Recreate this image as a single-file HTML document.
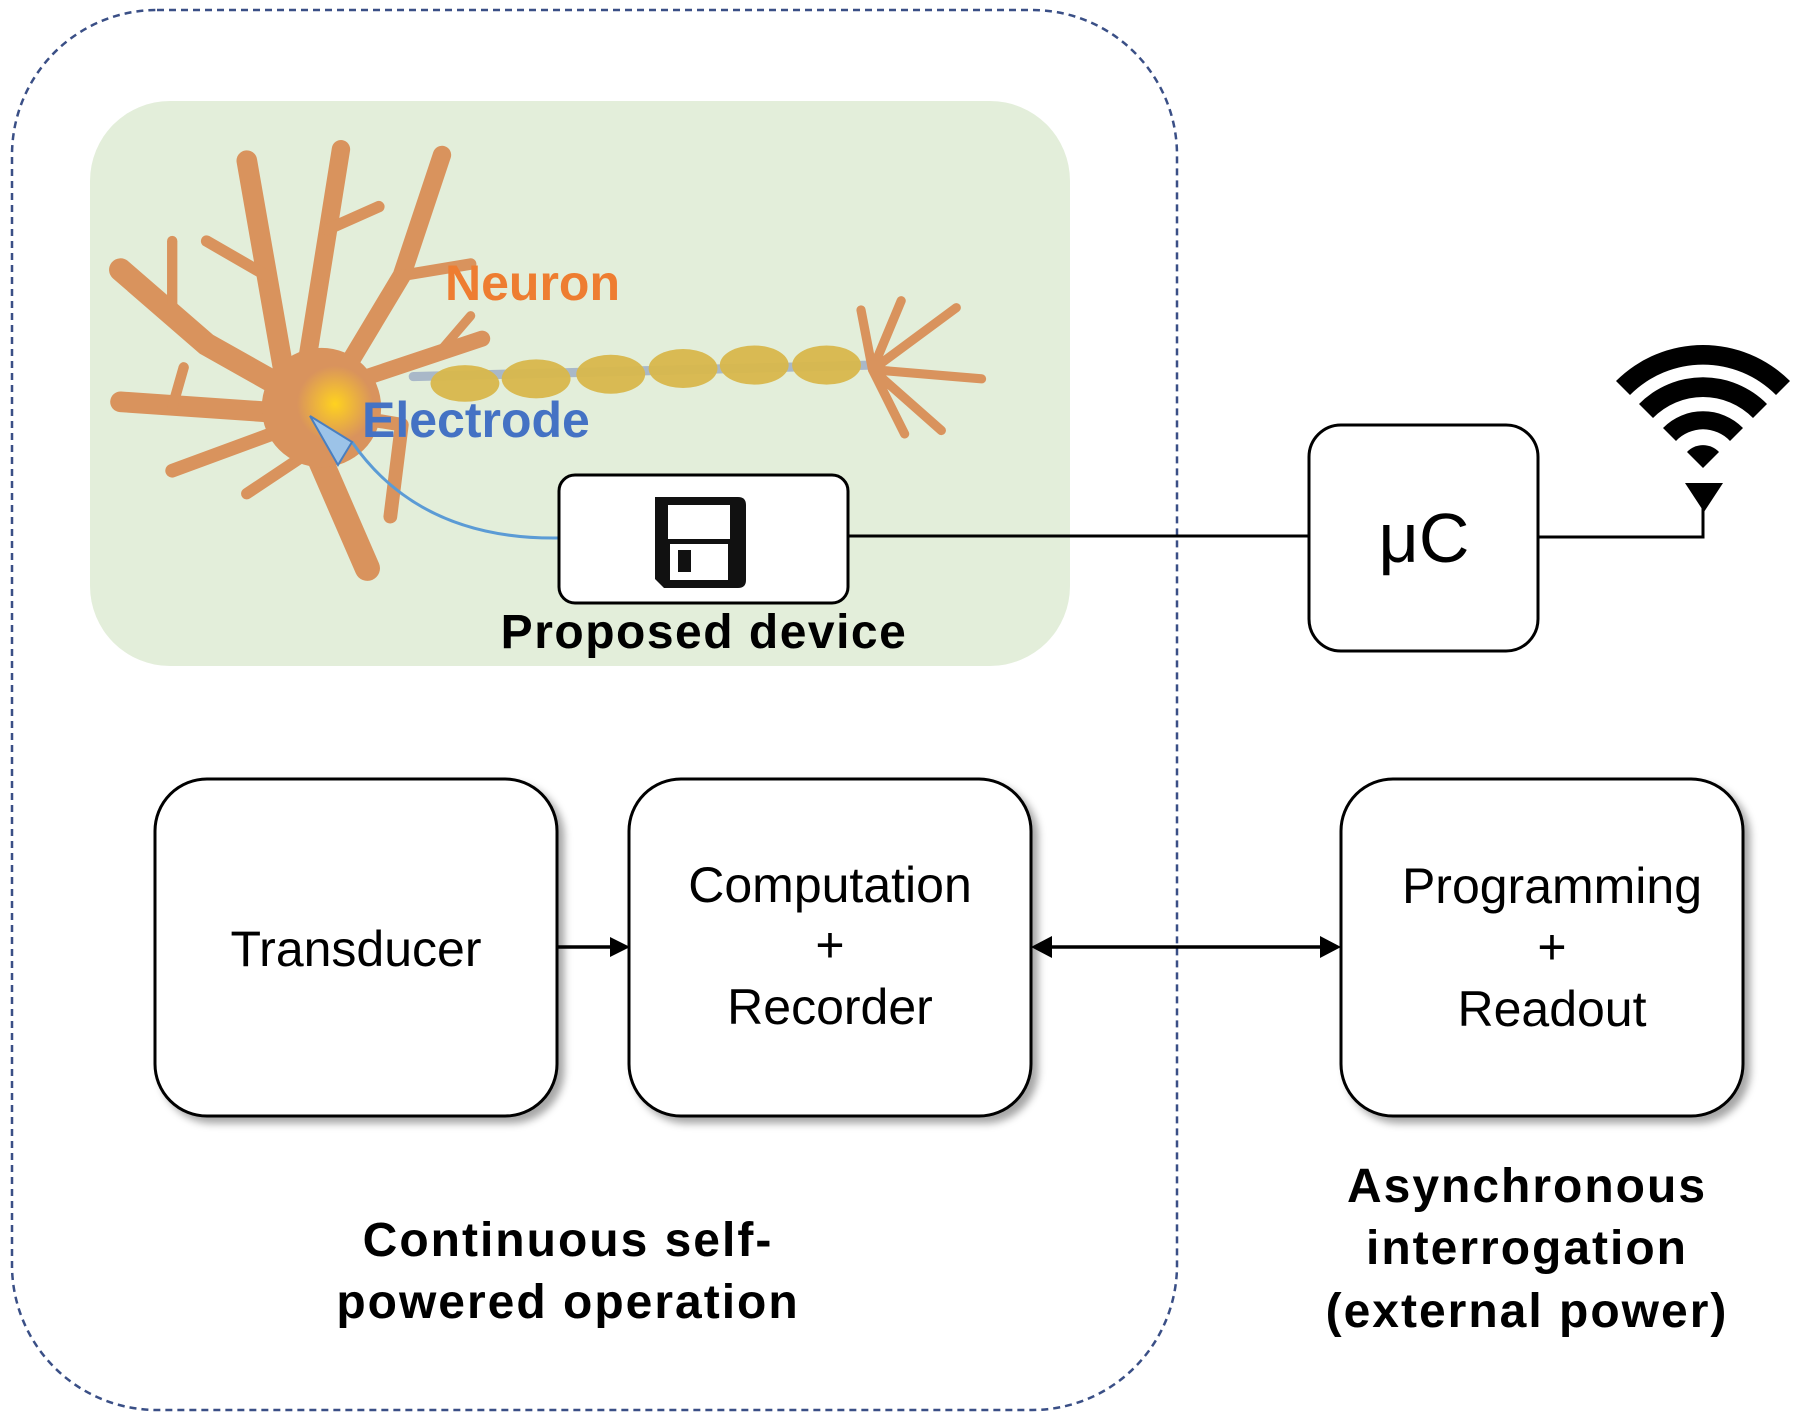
<!DOCTYPE html>
<html><head><meta charset="utf-8"><style>
html,body{margin:0;padding:0;background:#fff}
svg{display:block}
text{font-family:"Liberation Sans",Arial,sans-serif}
</style></head><body>
<svg width="1800" height="1417" viewBox="0 0 1800 1417" xmlns="http://www.w3.org/2000/svg">
<defs>
<filter id="sh" x="-10%" y="-10%" width="130%" height="130%"><feDropShadow dx="6" dy="6" stdDeviation="4" flood-color="#000" flood-opacity="0.35"/></filter>
<radialGradient id="glow"><stop offset="0" stop-color="#ffd21f"/><stop offset="1" stop-color="#ffd21f" stop-opacity="0"/></radialGradient>
</defs>
<rect width="1800" height="1417" fill="#fff"/>
<rect x="12" y="10" width="1165" height="1400" rx="145" fill="none" stroke="#3a4f86" stroke-width="2.5" stroke-dasharray="7,5"/>
<rect x="90" y="101" width="980" height="565" rx="80" fill="#e3eeda"/>
<g transform="scale(1.148)" stroke="#d9935d" stroke-linecap="round" stroke-linejoin="round" fill="none">
<line x1="360" y1="328" x2="760" y2="318" stroke="#a9b8c8" stroke-width="8"/>
<g fill="#d9b84c" stroke="none" opacity="0.95">
<ellipse cx="405" cy="334" rx="30" ry="16"/>
<ellipse cx="467" cy="330" rx="30" ry="17"/>
<ellipse cx="532" cy="326" rx="30" ry="17"/>
<ellipse cx="595" cy="321" rx="30" ry="17"/>
<ellipse cx="657" cy="318" rx="30" ry="17"/>
<ellipse cx="720" cy="318" rx="30" ry="17"/>
</g>
<path d="M250 340 L215 140" stroke-width="18"/>
<path d="M232 240 L180 210" stroke-width="10"/>
<path d="M265 330 L297 130" stroke-width="16"/>
<path d="M285 200 L330 180" stroke-width="10"/>
<path d="M290 340 L350 240 L385 135" stroke-width="16"/>
<path d="M350 240 L410 230" stroke-width="10"/>
<path d="M260 345 L180 300 L105 235" stroke-width="20"/>
<path d="M150 265 L150 210" stroke-width="9"/>
<path d="M250 360 L105 350" stroke-width="18"/>
<path d="M150 355 L160 320" stroke-width="9"/>
<path d="M245 375 L150 410" stroke-width="12"/>
<path d="M270 380 L320 495" stroke-width="22"/>
<path d="M260 400 L215 430" stroke-width="10"/>
<path d="M290 360 L350 370 L340 450" stroke-width="12"/>
<path d="M300 335 L420 295" stroke-width="14"/>
<path d="M380 310 L410 275" stroke-width="8"/>
<ellipse cx="280" cy="355" rx="52" ry="52" fill="#d9935d" stroke="none"/>
<path d="M760 322 L785 262 M760 322 L833 268 M760 322 L855 330 M760 322 L820 375 M760 322 L788 378 M760 322 L750 270" stroke-width="8"/>
</g>
<circle cx="335" cy="404" r="38" fill="url(#glow)"/>
<path d="M559 538 Q420 540 352 442" fill="none" stroke="#5b9bd5" stroke-width="3"/>
<path d="M352 442 L310 416 L338 465 Z" fill="#9cc3e8" stroke="#4a7fc0" stroke-width="2"/>
<text x="445" y="300" font-size="50" font-weight="bold" fill="#ee7d31">Neuron</text>
<text x="362" y="437" font-size="50" font-weight="bold" fill="#4472c4">Electrode</text>
<rect x="559" y="475" width="289" height="128" rx="16" fill="#fff" stroke="#000" stroke-width="3"/>
<path d="M655 497 H738 Q746 497 746 505 V580 Q746 588 738 588 H664 L655 579 Z" fill="#111"/>
<rect x="668" y="505" width="62" height="34" fill="#fff"/>
<rect x="670" y="544" width="58" height="36" fill="#fff"/>
<rect x="678" y="550" width="13" height="22" fill="#111"/>
<text x="704" y="648" font-size="48" font-weight="bold" text-anchor="middle" letter-spacing="1.5">Proposed device</text>
<line x1="848" y1="536" x2="1309" y2="536" stroke="#000" stroke-width="3"/>
<rect x="1309" y="425" width="229" height="226" rx="32" fill="#fff" stroke="#000" stroke-width="3"/>
<text x="1424" y="562" font-size="70" text-anchor="middle">μC</text>
<path d="M1538 537 H1703 V505" fill="none" stroke="#000" stroke-width="3"/>
<path d="M1685 483 H1723 L1704 512 Z" fill="#000"/>
<g fill="#000">
<path d="M1616 381 A123 123 0 0 1 1790 381 L1776 395 A103 103 0 0 0 1630 395 Z"/>
<path d="M1639 404 A90 90 0 0 1 1767 404 L1753 418 A70 70 0 0 0 1653 418 Z"/>
<path d="M1663 428 A56 56 0 0 1 1743 428 L1730 441 A37 37 0 0 0 1676 441 Z"/>
<path d="M1687 452 A22 22 0 0 1 1719 452 L1703 468 Z"/>
</g>
<g filter="url(#sh)" fill="#fff" stroke="#000" stroke-width="3">
<rect x="155" y="779" width="402" height="337" rx="52"/>
<rect x="629" y="779" width="402" height="337" rx="52"/>
<rect x="1341" y="779" width="402" height="337" rx="52"/>
</g>
<g font-size="50" text-anchor="middle">
<text x="356" y="966">Transducer</text>
<text x="830" y="902">Computation</text>
<text x="830" y="962">+</text>
<text x="830" y="1024">Recorder</text>
<text x="1552" y="903">Programming</text>
<text x="1552" y="964">+</text>
<text x="1552" y="1026">Readout</text>
</g>
<line x1="557" y1="947" x2="612" y2="947" stroke="#000" stroke-width="3.5"/>
<path d="M630 947 L610 937 L610 957 Z" fill="#000"/>
<line x1="1050" y1="947" x2="1322" y2="947" stroke="#000" stroke-width="3.5"/>
<path d="M1031 947 L1052 936 L1052 958 Z" fill="#000"/>
<path d="M1341 947 L1320 936 L1320 958 Z" fill="#000"/>
<g font-size="48" font-weight="bold" text-anchor="middle" letter-spacing="2">
<text x="568" y="1256">Continuous self-</text>
<text x="568" y="1318">powered operation</text>
<text x="1527" y="1202">Asynchronous</text>
<text x="1527" y="1264">interrogation</text>
<text x="1527" y="1327">(external power)</text>
</g>
</svg>
</body></html>
